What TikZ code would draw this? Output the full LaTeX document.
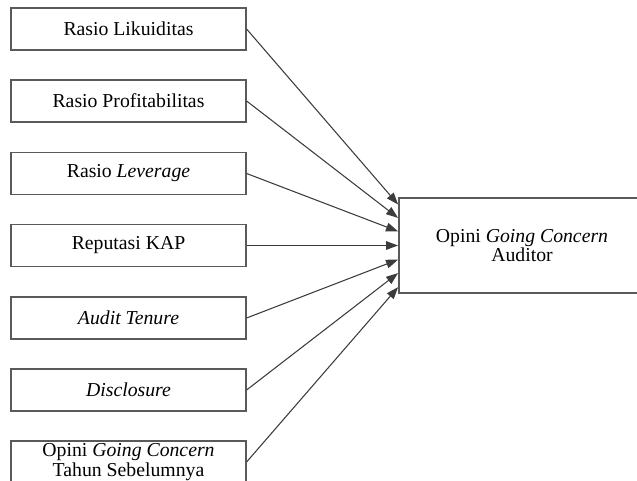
\documentclass[tikz,border=0pt]{standalone}
\usepackage{fontspec}
\setmainfont{Liberation Serif}
\usetikzlibrary{arrows.meta}
\definecolor{edge}{HTML}{5A5A5A}
\definecolor{arr}{HTML}{3C3C3C}
\tikzset{
  leftbox/.style={draw=edge, line width=0.9pt, minimum width=176.25pt, minimum height=31.5pt, inner sep=0pt, align=center, font=\fontsize{14.8}{15.5}\selectfont},
  rightbox/.style={draw=edge, line width=0.9pt, minimum width=184.5pt, minimum height=71.25pt, inner sep=0pt, align=center, font=\fontsize{14.8}{14}\selectfont},
  link/.style={draw=arr, line width=0.8pt, -{Triangle[length=9pt,width=6.5pt]}, shorten >=0.3pt}
}
\begin{document}
\begin{tikzpicture}[x=0.75pt,y=-0.75pt]
\useasboundingbox (0,0) rectangle (637,481);
\clip (0,0) rectangle (637,481);
\node[leftbox] (b1) at (128.5,29) {Rasio Likuiditas};
\node[leftbox] (b2) at (128.5,101) {Rasio Profitabilitas};
\node[leftbox] (b3) at (128.5,173.5) {Rasio \textit{Leverage}};
\node[leftbox] (b4) at (128.5,245.5) {Reputasi KAP};
\node[leftbox] (b5) at (128.5,318) {\textit{Audit Tenure}};
\node[leftbox] (b6) at (128.5,390) {\textit{Disclosure}};
\node[leftbox] (b7) at (128.5,462) {Opini \textit{Going Concern}\\Tahun Sebelumnya};
\node[rightbox] (r) at (522,245.5) {Opini \textit{Going Concern}\\Auditor};
\draw[link] (b1.east) -- ([yshift=30.5pt]r.west);
\draw[link] (b2.east) -- ([yshift=20.5pt]r.west);
\draw[link] (b3.east) -- ([yshift=10.5pt]r.west);
\draw[link] (b4.east) -- (r.west);
\draw[link] (b5.east) -- ([yshift=-10.5pt]r.west);
\draw[link] (b6.east) -- ([yshift=-20.5pt]r.west);
\draw[link] (b7.east) -- ([yshift=-31pt]r.west);
\end{tikzpicture}
\end{document}
